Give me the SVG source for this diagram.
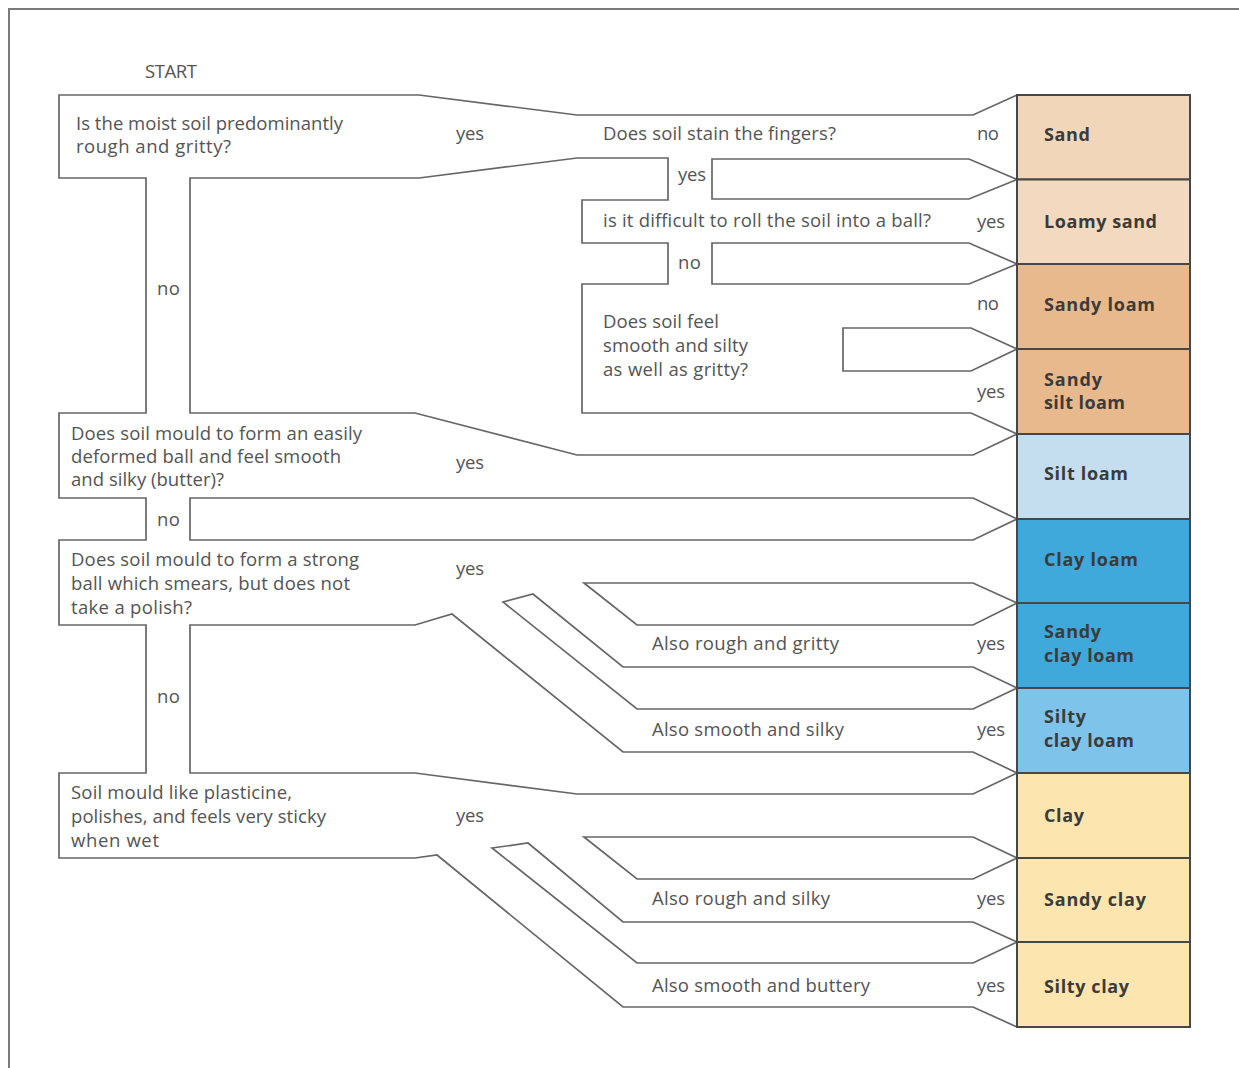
<svg xmlns="http://www.w3.org/2000/svg" width="1239" height="1068" viewBox="0 0 1239 1068">
<style>
.frame{fill:none;stroke:#7a7a7a;stroke-width:2}
.wall{fill:#fff;stroke:#666;stroke-width:1.7;stroke-linejoin:miter}
.open{fill:none;stroke:#666;stroke-width:1.7;stroke-linejoin:miter}
.cell{stroke:#474747;stroke-width:2}
text{font-family:"Open Sans","Liberation Sans",sans-serif;font-size:18.5px;fill:#545454}
.res{font-weight:bold;font-size:18px;fill:#3b3b3b}
</style>
<rect width="1239" height="1068" fill="#fff"/>
<path class="frame" d="M9,1068 V9 H1239"/>

<g id="connectors">
<polyline class="open" points="1017,95 973,115 577,115 419,95 59,95 59,178 146,178 146,413 59,413 59,498 146,498 146,540 59,540 59,625 146,625 146,773 59,773 59,858 415,858 437,855 623,1007 973,1007 1017,1027"/>
<polygon class="wall" points="190,178 419,178 577,158 668,158 668,200 582,200 582,243 668,243 668,284 582,284 582,413 971,413 1017,434 973,455 577,455 415,413 190,413"/>
<polygon class="wall" points="712,159 969,159 1017,179.5 969,199 712,199"/>
<polygon class="wall" points="712,243 969,243 1017,264 969,284 712,284"/>
<polygon class="wall" points="843,328 971,328 1017,349 971,371 843,371"/>
<polygon class="wall" points="190,498 973,498 1017,519 973,540 190,540"/>
<polygon class="wall" points="584,583 973,583 1017,603 973,625 637,625"/>
<polygon class="wall" points="503,602 533,594 623,667 973,667 1017,688 973,709 637,709"/>
<polygon class="wall" points="190,625 415,625 452,614 623,752 973,752 1017,773 973,794 577,794 415,773 190,773"/>
<polygon class="wall" points="584,837 973,837 1017,858 973,879 637,879"/>
<polygon class="wall" points="492,848 528,843 623,922 973,922 1017,942 973,963 637,963"/>
</g>

<g id="labels">
<text x="145" y="78" textLength="52">START</text>
<text x="456" y="140" textLength="28">yes</text>
<text x="678" y="181" textLength="28">yes</text>
<text x="678" y="269" textLength="23">no</text>
<text x="977" y="140" textLength="22">no</text>
<text x="977" y="228" textLength="28">yes</text>
<text x="977" y="310" textLength="22">no</text>
<text x="977" y="398" textLength="28">yes</text>
<text x="456" y="469" textLength="28">yes</text>
<text x="157" y="295" textLength="23">no</text>
<text x="157" y="526" textLength="23">no</text>
<text x="456" y="575" textLength="28">yes</text>
<text x="977" y="650" textLength="28">yes</text>
<text x="157" y="703" textLength="23">no</text>
<text x="977" y="736" textLength="28">yes</text>
<text x="456" y="822" textLength="28">yes</text>
<text x="977" y="905" textLength="28">yes</text>
<text x="977" y="992" textLength="28">yes</text>
</g>

<g id="q1">
<text x="76" y="130" textLength="267">Is the moist soil predominantly</text>
<text x="76" y="153" textLength="155">rough and gritty?</text>
</g>
<g id="q1a"><text x="603" y="140" textLength="233">Does soil stain the fingers?</text></g>
<g id="q1b"><text x="603" y="227" textLength="328">is it difficult to roll the soil into a ball?</text></g>
<g id="q1c">
<text x="603" y="328" textLength="116">Does soil feel</text>
<text x="603" y="352" textLength="145">smooth and silty</text>
<text x="603" y="376" textLength="145">as well as gritty?</text>
</g>
<g id="q2">
<text x="71" y="440" textLength="291">Does soil mould to form an easily</text>
<text x="71" y="463" textLength="270">deformed ball and feel smooth</text>
<text x="71" y="486" textLength="153">and silky (butter)?</text>
</g>
<g id="q3">
<text x="71" y="566" textLength="288">Does soil mould to form a strong</text>
<text x="71" y="590" textLength="279">ball which smears, but does not</text>
<text x="71" y="614" textLength="121">take a polish?</text>
</g>
<g id="q3a"><text x="652" y="650" textLength="187">Also rough and gritty</text></g>
<g id="q3b"><text x="652" y="736" textLength="192">Also smooth and silky</text></g>
<g id="q4">
<text x="71" y="799" textLength="221">Soil mould like plasticine,</text>
<text x="71" y="823" textLength="255">polishes, and feels very sticky</text>
<text x="71" y="847" textLength="88">when wet</text>
</g>
<g id="q4a"><text x="652" y="905" textLength="178">Also rough and silky</text></g>
<g id="q4b"><text x="652" y="992" textLength="218">Also smooth and buttery</text></g>

<g id="sand"><rect class="cell" x="1017" y="95" width="173" height="84.5" fill="#F2D6BA"/><text class="res" x="1044" y="141" textLength="46">Sand</text></g>
<g id="loamy-sand"><rect class="cell" x="1017" y="179.5" width="173" height="84.5" fill="#F3D9BF"/><text class="res" x="1044" y="228" textLength="113">Loamy sand</text></g>
<g id="sandy-loam"><rect class="cell" x="1017" y="264" width="173" height="85" fill="#E9B98E"/><text class="res" x="1044" y="311" textLength="111">Sandy loam</text></g>
<g id="sandy-silt-loam"><rect class="cell" x="1017" y="349" width="173" height="85" fill="#E9B98E"/><text class="res" x="1044" y="386" textLength="58">Sandy</text><text class="res" x="1044" y="409" textLength="81">silt loam</text></g>
<g id="silt-loam"><rect class="cell" x="1017" y="434" width="173" height="85" fill="#C4DEF0"/><text class="res" x="1044" y="480" textLength="84">Silt loam</text></g>
<g id="clay-loam"><rect class="cell" x="1017" y="519" width="173" height="84" fill="#3FA9DC"/><text class="res" x="1044" y="566" textLength="94">Clay loam</text></g>
<g id="sandy-clay-loam"><rect class="cell" x="1017" y="603" width="173" height="85" fill="#3FA9DC"/><text class="res" x="1044" y="638" textLength="57">Sandy</text><text class="res" x="1044" y="662" textLength="90">clay loam</text></g>
<g id="silty-clay-loam"><rect class="cell" x="1017" y="688" width="173" height="85" fill="#7EC3E9"/><text class="res" x="1044" y="723" textLength="42">Silty</text><text class="res" x="1044" y="747" textLength="90">clay loam</text></g>
<g id="clay"><rect class="cell" x="1017" y="773" width="173" height="85" fill="#FCE5AE"/><text class="res" x="1044" y="822" textLength="40">Clay</text></g>
<g id="sandy-clay"><rect class="cell" x="1017" y="858" width="173" height="84" fill="#FCE5AE"/><text class="res" x="1044" y="906" textLength="102">Sandy clay</text></g>
<g id="silty-clay"><rect class="cell" x="1017" y="942" width="173" height="85" fill="#FCE5AE"/><text class="res" x="1044" y="993" textLength="85">Silty clay</text></g>
</svg>
